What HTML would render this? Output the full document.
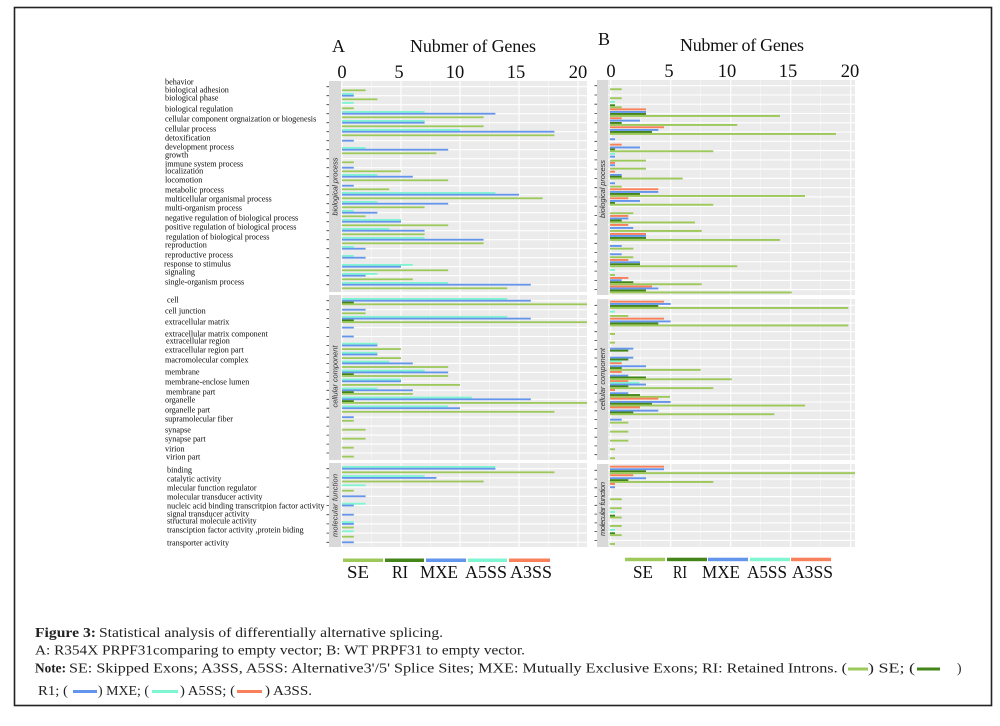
<!DOCTYPE html>
<html><head><meta charset="utf-8"><style>
html,body{margin:0;padding:0;background:#fff}
svg{display:block}
.g{fill:#9dc85a}.r{fill:#44851a}.b{fill:#6395ec}.c{fill:#7ff5d2}.o{fill:#f8805a}
.lab{font-family:"Liberation Serif",serif;font-size:8.2px;fill:#0a0a0a}
.strip{font-family:"Liberation Sans",sans-serif;font-size:7.5px;font-style:italic;fill:#333}
.big{font-family:"Liberation Serif",serif;font-size:18px;fill:#111}
.tick{font-family:"Liberation Serif",serif;font-size:18.5px;fill:#111}
.leg{font-family:"Liberation Serif",serif;font-size:18px;fill:#111}
.cap{font-family:"Liberation Serif",serif;font-size:13.5px;fill:#222}
.capb{font-family:"Liberation Serif",serif;font-size:13.5px;font-weight:bold;fill:#222}
</style></head><body>
<svg width="1000" height="726" viewBox="0 0 1000 726" xmlns="http://www.w3.org/2000/svg">
<rect x="0" y="0" width="1000" height="726" fill="#fff"/>
<rect x="14.5" y="7.5" width="977" height="698" fill="none" stroke="#222" stroke-width="1.6"/>

<!-- ===== Panel A ===== -->
<text class="big" x="332" y="52">A</text>
<text class="big" x="410" y="52" textLength="126">Nubmer of Genes</text>
<g class="tick" text-anchor="middle">
<text x="342" y="78">0</text><text x="399" y="78">5</text><text x="455" y="78">10</text><text x="516" y="78">15</text><text x="578" y="78">20</text>
</g>

<rect x="329" y="81" width="12" height="211" fill="#d9d9d9"/>
<rect x="341" y="81" width="246" height="211" fill="#ebebeb"/>
<rect x="329" y="295" width="12" height="165" fill="#d9d9d9"/>
<rect x="341" y="295" width="246" height="165" fill="#ebebeb"/>
<rect x="329" y="463" width="12" height="84" fill="#d9d9d9"/>
<rect x="341" y="463" width="246" height="84" fill="#ebebeb"/>

<g stroke="#fff" stroke-width="0.5" opacity="0.8">
<path d="M371.5 81V292M430.5 81V292M489.5 81V292M548.5 81V292M371.5 295V460M430.5 295V460M489.5 295V460M548.5 295V460M371.5 463V547M430.5 463V547M489.5 463V547M548.5 463V547"/>
</g>
<g stroke="#fff" stroke-width="1.1">
<path d="M342 81V292M401 81V292M460 81V292M519 81V292M578 81V292M342 295V460M401 295V460M460 295V460M519 295V460M578 295V460M342 463V547M401 463V547M460 463V547M519 463V547M578 463V547"/>
<path d="M341 86.7H587M341 95.7H587M341 104.7H587M341 113.7H587M341 122.7H587M341 131.7H587M341 140.7H587M341 149.7H587M341 158.7H587M341 167.7H587M341 176.7H587M341 185.7H587M341 194.7H587M341 203.7H587M341 212.7H587M341 221.7H587M341 230.7H587M341 239.7H587M341 248.7H587M341 257.7H587M341 266.7H587M341 275.7H587M341 284.7H587"/>
<path d="M341 300.7H587M341 309.7H587M341 318.6H587M341 327.6H587M341 336.5H587M341 345.5H587M341 354.5H587M341 363.4H587M341 372.4H587M341 381.3H587M341 390.3H587M341 399.3H587M341 408.2H587M341 417.2H587M341 426.1H587M341 435.1H587M341 444.1H587M341 453H587"/>
<path d="M341 468.7H587M341 477.9H587M341 487.1H587M341 496.3H587M341 505.5H587M341 514.7H587M341 523.9H587M341 533.1H587M341 542.3H587"/>
</g>
<g stroke="#333" stroke-width="0.8">
<path d="M326.5 86.7H329M326.5 95.7H329M326.5 104.7H329M326.5 113.7H329M326.5 122.7H329M326.5 131.7H329M326.5 140.7H329M326.5 149.7H329M326.5 158.7H329M326.5 167.7H329M326.5 176.7H329M326.5 185.7H329M326.5 194.7H329M326.5 203.7H329M326.5 212.7H329M326.5 221.7H329M326.5 230.7H329M326.5 239.7H329M326.5 248.7H329M326.5 257.7H329M326.5 266.7H329M326.5 275.7H329M326.5 284.7H329"/>
<path d="M326.5 300.7H329M326.5 309.7H329M326.5 318.6H329M326.5 327.6H329M326.5 336.5H329M326.5 345.5H329M326.5 354.5H329M326.5 363.4H329M326.5 372.4H329M326.5 381.3H329M326.5 390.3H329M326.5 399.3H329M326.5 408.2H329M326.5 417.2H329M326.5 426.1H329M326.5 435.1H329M326.5 444.1H329M326.5 453H329"/>
<path d="M326.5 468.7H329M326.5 477.9H329M326.5 487.1H329M326.5 496.3H329M326.5 505.5H329M326.5 514.7H329M326.5 523.9H329M326.5 533.1H329M326.5 542.3H329"/>
</g>

<text class="strip" transform="translate(337.5,186.5) rotate(-90)" text-anchor="middle" textLength="58">biological process</text>
<text class="strip" transform="translate(337.5,376.5) rotate(-90)" text-anchor="middle" textLength="62">cellular component</text>
<text class="strip" transform="translate(337.5,505.5) rotate(-90)" text-anchor="middle" textLength="63">molecular function</text>

<!-- A bio bars -->
<g transform="translate(342,86.7)"><rect class="g" y="2.7" width="23.6" height="1.8"/></g>
<g transform="translate(342,95.7)"><rect class="c" y="-2.7" width="11.8" height="1.8"/><rect class="b" y="-0.9" width="11.8" height="1.8"/><rect class="g" y="2.7" width="35.4" height="1.8"/></g>
<g transform="translate(342,104.7)"><rect class="c" y="-2.7" width="11.8" height="1.8"/><rect class="g" y="2.7" width="11.8" height="1.8"/></g>
<g transform="translate(342,113.7)"><rect class="c" y="-2.7" width="82.6" height="1.8"/><rect class="b" y="-0.9" width="153.4" height="1.8"/><rect class="g" y="2.7" width="141.6" height="1.8"/></g>
<g transform="translate(342,122.7)"><rect class="c" y="-2.7" width="82.6" height="1.8"/><rect class="b" y="-0.9" width="82.6" height="1.8"/><rect class="g" y="2.7" width="141.6" height="1.8"/></g>
<g transform="translate(342,131.7)"><rect class="c" y="-2.7" width="118" height="1.8"/><rect class="b" y="-0.9" width="212.4" height="1.8"/><rect class="g" y="2.7" width="212.4" height="1.8"/></g>
<g transform="translate(342,140.7)"><rect class="b" y="-0.9" width="11.8" height="1.8"/></g>
<g transform="translate(342,149.7)"><rect class="c" y="-2.7" width="23.6" height="1.8"/><rect class="b" y="-0.9" width="106.2" height="1.8"/><rect class="g" y="2.7" width="94.4" height="1.8"/></g>
<g transform="translate(342,158.7)"><rect class="g" y="2.7" width="11.8" height="1.8"/></g>
<g transform="translate(342,167.7)"><rect class="b" y="-0.9" width="11.8" height="1.8"/><rect class="g" y="2.7" width="59" height="1.8"/></g>
<g transform="translate(342,176.7)"><rect class="c" y="-2.7" width="35.4" height="1.8"/><rect class="b" y="-0.9" width="70.8" height="1.8"/><rect class="g" y="2.7" width="106.2" height="1.8"/></g>
<g transform="translate(342,185.7)"><rect class="b" y="-0.9" width="11.8" height="1.8"/><rect class="g" y="2.7" width="47.2" height="1.8"/></g>
<g transform="translate(342,194.7)"><rect class="c" y="-2.7" width="153.4" height="1.8"/><rect class="b" y="-0.9" width="177" height="1.8"/><rect class="g" y="2.7" width="200.6" height="1.8"/></g>
<g transform="translate(342,203.7)"><rect class="c" y="-2.7" width="35.4" height="1.8"/><rect class="b" y="-0.9" width="106.2" height="1.8"/><rect class="g" y="2.7" width="82.6" height="1.8"/></g>
<g transform="translate(342,212.7)"><rect class="c" y="-2.7" width="11.8" height="1.8"/><rect class="b" y="-0.9" width="35.4" height="1.8"/><rect class="g" y="2.7" width="23.6" height="1.8"/></g>
<g transform="translate(342,221.7)"><rect class="c" y="-2.7" width="59" height="1.8"/><rect class="b" y="-0.9" width="59" height="1.8"/><rect class="g" y="2.7" width="106.2" height="1.8"/></g>
<g transform="translate(342,230.7)"><rect class="c" y="-2.7" width="47.2" height="1.8"/><rect class="b" y="-0.9" width="82.6" height="1.8"/><rect class="g" y="2.7" width="82.6" height="1.8"/></g>
<g transform="translate(342,239.7)"><rect class="c" y="-2.7" width="82.6" height="1.8"/><rect class="b" y="-0.9" width="141.6" height="1.8"/><rect class="g" y="2.7" width="141.6" height="1.8"/></g>
<g transform="translate(342,248.7)"><rect class="c" y="-2.7" width="11.8" height="1.8"/><rect class="b" y="-0.9" width="23.6" height="1.8"/></g>
<g transform="translate(342,257.7)"><rect class="c" y="-2.7" width="11.8" height="1.8"/><rect class="b" y="-0.9" width="23.6" height="1.8"/></g>
<g transform="translate(342,266.7)"><rect class="c" y="-2.7" width="70.8" height="1.8"/><rect class="b" y="-0.9" width="59" height="1.8"/><rect class="g" y="2.7" width="106.2" height="1.8"/></g>
<g transform="translate(342,275.7)"><rect class="c" y="-2.7" width="35.4" height="1.8"/><rect class="b" y="-0.9" width="23.6" height="1.8"/><rect class="g" y="2.7" width="70.8" height="1.8"/></g>
<g transform="translate(342,284.7)"><rect class="c" y="-2.7" width="106.2" height="1.8"/><rect class="b" y="-0.9" width="188.8" height="1.8"/><rect class="g" y="2.7" width="165.2" height="1.8"/></g>

<!-- A CC bars -->
<g transform="translate(342,300.7)"><rect class="c" y="-2.7" width="165.2" height="1.8"/><rect class="b" y="-0.9" width="188.8" height="1.8"/><rect class="r" y="0.9" width="11.8" height="1.8"/><rect class="g" y="2.7" width="245" height="1.8"/></g>
<g transform="translate(342,309.7)"><rect class="b" y="-0.9" width="23.6" height="1.8"/><rect class="g" y="2.7" width="23.6" height="1.8"/></g>
<g transform="translate(342,318.6)"><rect class="c" y="-2.7" width="165.2" height="1.8"/><rect class="b" y="-0.9" width="188.8" height="1.8"/><rect class="r" y="0.9" width="11.8" height="1.8"/><rect class="g" y="2.7" width="245" height="1.8"/></g>
<g transform="translate(342,327.6)"><rect class="b" y="-0.9" width="11.8" height="1.8"/></g>
<g transform="translate(342,336.5)"><rect class="b" y="-0.9" width="11.8" height="1.8"/></g>
<g transform="translate(342,345.5)"><rect class="c" y="-2.7" width="35.4" height="1.8"/><rect class="b" y="-0.9" width="35.4" height="1.8"/><rect class="g" y="2.7" width="59" height="1.8"/></g>
<g transform="translate(342,354.5)"><rect class="c" y="-2.7" width="35.4" height="1.8"/><rect class="b" y="-0.9" width="35.4" height="1.8"/><rect class="g" y="2.7" width="59" height="1.8"/></g>
<g transform="translate(342,363.4)"><rect class="c" y="-2.7" width="47.2" height="1.8"/><rect class="b" y="-0.9" width="70.8" height="1.8"/><rect class="g" y="2.7" width="106.2" height="1.8"/></g>
<g transform="translate(342,372.4)"><rect class="c" y="-2.7" width="82.6" height="1.8"/><rect class="b" y="-0.9" width="106.2" height="1.8"/><rect class="r" y="0.9" width="11.8" height="1.8"/><rect class="g" y="2.7" width="106.2" height="1.8"/></g>
<g transform="translate(342,381.3)"><rect class="c" y="-2.7" width="59" height="1.8"/><rect class="b" y="-0.9" width="59" height="1.8"/><rect class="g" y="2.7" width="118" height="1.8"/></g>
<g transform="translate(342,390.3)"><rect class="c" y="-2.7" width="35.4" height="1.8"/><rect class="b" y="-0.9" width="70.8" height="1.8"/><rect class="r" y="0.9" width="11.8" height="1.8"/><rect class="g" y="2.7" width="70.8" height="1.8"/></g>
<g transform="translate(342,399.3)"><rect class="c" y="-2.7" width="129.8" height="1.8"/><rect class="b" y="-0.9" width="188.8" height="1.8"/><rect class="r" y="0.9" width="11.8" height="1.8"/><rect class="g" y="2.7" width="245" height="1.8"/></g>
<g transform="translate(342,408.2)"><rect class="c" y="-2.7" width="106.2" height="1.8"/><rect class="b" y="-0.9" width="118" height="1.8"/><rect class="g" y="2.7" width="212.4" height="1.8"/></g>
<g transform="translate(342,417.2)"><rect class="b" y="-0.9" width="11.8" height="1.8"/><rect class="g" y="2.7" width="11.8" height="1.8"/></g>
<g transform="translate(342,426.1)"><rect class="g" y="2.7" width="23.6" height="1.8"/></g>
<g transform="translate(342,435.1)"><rect class="g" y="2.7" width="23.6" height="1.8"/></g>
<g transform="translate(342,444.1)"><rect class="g" y="2.7" width="11.8" height="1.8"/></g>
<g transform="translate(342,453)"><rect class="g" y="2.7" width="11.8" height="1.8"/></g>

<!-- A MF bars -->
<g transform="translate(342,468.7)"><rect class="c" y="-2.7" width="153.4" height="1.8"/><rect class="b" y="-0.9" width="153.4" height="1.8"/><rect class="g" y="2.7" width="212.4" height="1.8"/></g>
<g transform="translate(342,477.9)"><rect class="c" y="-2.7" width="82.6" height="1.8"/><rect class="b" y="-0.9" width="94.4" height="1.8"/><rect class="g" y="2.7" width="141.6" height="1.8"/></g>
<g transform="translate(342,487.1)"><rect class="c" y="-2.7" width="23.6" height="1.8"/><rect class="g" y="2.7" width="11.8" height="1.8"/></g>
<g transform="translate(342,496.3)"><rect class="b" y="-0.9" width="23.6" height="1.8"/></g>
<g transform="translate(342,505.5)"><rect class="c" y="-2.7" width="23.6" height="1.8"/><rect class="b" y="-0.9" width="11.8" height="1.8"/></g>
<g transform="translate(342,514.7)"><rect class="b" y="-0.9" width="11.8" height="1.8"/></g>
<g transform="translate(342,523.9)"><rect class="c" y="-2.7" width="11.8" height="1.8"/><rect class="b" y="-0.9" width="11.8" height="1.8"/><rect class="g" y="2.7" width="11.8" height="1.8"/></g>
<g transform="translate(342,533.1)"><rect class="c" y="-2.7" width="11.8" height="1.8"/><rect class="g" y="2.7" width="11.8" height="1.8"/></g>
<g transform="translate(342,542.3)"><rect class="b" y="-0.9" width="11.8" height="1.8"/></g>

<!-- A category labels -->
<g class="lab">
<text x="165" y="84.5">behavior</text>
<text x="165" y="92.5">biological adhesion</text>
<text x="165" y="100.5">biological phase</text>
<text x="165" y="111.5">biological regulation</text>
<text x="165" y="121.5">cellular component orgnaization or biogenesis</text>
<text x="165" y="131.5">cellular process</text>
<text x="165" y="140.5">detoxification</text>
<text x="165" y="149.5">development process</text>
<text x="165" y="157.5">growth</text>
<text x="165" y="166.5">immune system process</text>
<text x="165" y="173.5">localization</text>
<text x="165" y="182.5">locomotion</text>
<text x="165" y="192.5">metabolic process</text>
<text x="165" y="201.5">multicellular organismal process</text>
<text x="165" y="210.5">multi-organism process</text>
<text x="165" y="220.5">negative regulation of biological process</text>
<text x="165" y="229.5">positive regulation of biological process</text>
<text x="166" y="239.5">regulation of biological process</text>
<text x="165" y="247.5">reproduction</text>
<text x="165" y="257.5">reproductive process</text>
<text x="164" y="266.5">response to stimulus</text>
<text x="165" y="274.5">signaling</text>
<text x="165" y="284.5">single-organism process</text>

<text x="167" y="302.5">cell</text>
<text x="165" y="313.5">cell junction</text>
<text x="165" y="324.5">extracellular matrix</text>
<text x="165" y="336.5">extracellular matrix component</text>
<text x="166" y="343.5">extracellular region</text>
<text x="165" y="352.5">extracellular region part</text>
<text x="165" y="362.5">macromolecular complex</text>
<text x="165" y="374.5">membrane</text>
<text x="165" y="384.5">membrane-enclose lumen</text>
<text x="166" y="394.5">membrane part</text>
<text x="165" y="402.5">organelle</text>
<text x="165" y="412.5">organelle part</text>
<text x="165" y="421.5">supramolecular fiber</text>
<text x="165" y="432.5">synapse</text>
<text x="165" y="441.5">synapse part</text>
<text x="165" y="451.5">virion</text>
<text x="166" y="459.5">virion part</text>

<text x="167" y="472.5">binding</text>
<text x="167" y="481.5">catalytic activity</text>
<text x="167" y="490.5">mlecular function regulator</text>
<text x="167" y="499.5">molecular transducer activity</text>
<text x="167" y="508.5">nucleic acid binding transcritpion factor activity</text>
<text x="167" y="516.5">signal transducer activity</text>
<text x="167" y="523.5">structural molecule activity</text>
<text x="167" y="532.5">transciption factor activity ,protein biding</text>
<text x="167" y="545.5">transporter activity</text>
</g>

<!-- A legend -->
<rect x="343" y="558.5" width="40" height="3.5" fill="#9dc85a"/>
<rect x="385" y="558.5" width="39" height="3.5" fill="#44851a"/>
<rect x="426" y="558.5" width="40" height="3.5" fill="#6395ec"/>
<rect x="468" y="558.5" width="39" height="3.5" fill="#7ff5d2"/>
<rect x="509" y="558.5" width="41" height="3.5" fill="#f8805a"/>
<g class="leg">
<text x="347" y="578" textLength="22" lengthAdjust="spacingAndGlyphs">SE</text>
<text x="392" y="578" textLength="16" lengthAdjust="spacingAndGlyphs">RI</text>
<text x="420" y="578" textLength="38" lengthAdjust="spacingAndGlyphs">MXE</text>
<text x="465" y="578" textLength="42" lengthAdjust="spacingAndGlyphs">A5SS</text>
<text x="510" y="578" textLength="42" lengthAdjust="spacingAndGlyphs">A3SS</text>
</g>

<!-- ===== Panel B ===== -->
<text class="big" x="598" y="45">B</text>
<text class="big" x="680" y="51" textLength="124">Nubmer of Genes</text>
<g class="tick" text-anchor="middle">
<text x="611" y="77">0</text><text x="669" y="77">5</text><text x="727" y="77">10</text><text x="788" y="77">15</text><text x="850" y="77">20</text>
</g>

<rect x="597" y="80" width="11" height="215" fill="#d9d9d9"/>
<rect x="608" y="80" width="247" height="215" fill="#ebebeb"/>
<rect x="597" y="299" width="11" height="161" fill="#d9d9d9"/>
<rect x="608" y="299" width="247" height="161" fill="#ebebeb"/>
<rect x="597" y="464" width="11" height="83" fill="#d9d9d9"/>
<rect x="608" y="464" width="247" height="83" fill="#ebebeb"/>

<g stroke="#fff" stroke-width="0.5" opacity="0.8">
<path d="M640.7 80V295M700.7 80V295M760.7 80V295M820.7 80V295M640.7 299V460M700.7 299V460M760.7 299V460M820.7 299V460M640.7 464V547M700.7 464V547M760.7 464V547M820.7 464V547"/>
</g>
<g stroke="#fff" stroke-width="1.1">
<path d="M610.7 80V295M670.7 80V295M730.7 80V295M790.7 80V295M850.7 80V295M610.7 299V460M670.7 299V460M730.7 299V460M790.7 299V460M850.7 299V460M610.7 464V547M670.7 464V547M730.7 464V547M790.7 464V547M850.7 464V547"/>
<path d="M608 85.7H855M608 95H855M608 104.2H855M608 113.5H855M608 122.8H855M608 132H855M608 141.3H855M608 150.6H855M608 159.9H855M608 169.1H855M608 178.4H855M608 187.7H855M608 196.9H855M608 206.2H855M608 215.5H855M608 224.8H855M608 234H855M608 243.3H855M608 252.6H855M608 261.8H855M608 271.1H855M608 280.4H855M608 289.6H855"/>
<path d="M608 305.3H855M608 314.1H855M608 322.9H855M608 331.7H855M608 340.5H855M608 349.3H855M608 358H855M608 366.8H855M608 375.6H855M608 384.4H855M608 393.2H855M608 402H855M608 410.8H855M608 419.6H855M608 428.4H855M608 437.2H855M608 445.9H855M608 454.7H855"/>
<path d="M608 470.3H855M608 479.1H855M608 487.8H855M608 496.6H855M608 505.3H855M608 514.1H855M608 522.9H855M608 531.6H855M608 540.4H855"/>
</g>
<g stroke="#333" stroke-width="0.8">
<path d="M594.5 85.7H597M594.5 95H597M594.5 104.2H597M594.5 113.5H597M594.5 122.8H597M594.5 132H597M594.5 141.3H597M594.5 150.6H597M594.5 159.9H597M594.5 169.1H597M594.5 178.4H597M594.5 187.7H597M594.5 196.9H597M594.5 206.2H597M594.5 215.5H597M594.5 224.8H597M594.5 234H597M594.5 243.3H597M594.5 252.6H597M594.5 261.8H597M594.5 271.1H597M594.5 280.4H597M594.5 289.6H597"/>
<path d="M594.5 305.3H597M594.5 314.1H597M594.5 322.9H597M594.5 331.7H597M594.5 340.5H597M594.5 349.3H597M594.5 358H597M594.5 366.8H597M594.5 375.6H597M594.5 384.4H597M594.5 393.2H597M594.5 402H597M594.5 410.8H597M594.5 419.6H597M594.5 428.4H597M594.5 437.2H597M594.5 445.9H597M594.5 454.7H597"/>
<path d="M594.5 470.3H597M594.5 479.1H597M594.5 487.8H597M594.5 496.6H597M594.5 505.3H597M594.5 514.1H597M594.5 522.9H597M594.5 531.6H597M594.5 540.4H597"/>
</g>

<text class="strip" transform="translate(605,189) rotate(-90)" text-anchor="middle" textLength="58">biological process</text>
<text class="strip" transform="translate(605,379) rotate(-90)" text-anchor="middle" textLength="62">cellular component</text>
<text class="strip" transform="translate(605,509) rotate(-90)" text-anchor="middle" textLength="54">molecular function</text>

<!-- B bio bars -->
<g>
<rect class="g" x="610" y="88.3" width="11.7" height="1.9"/>
<rect class="g" x="610" y="97.3" width="11.7" height="1.9"/>
<rect class="c" x="610" y="101" width="5" height="1.9"/>
<rect class="r" x="610" y="104.3" width="5" height="1.9"/>
<rect class="g" x="610" y="106.3" width="11.7" height="1.9"/>
<rect class="o" x="610" y="108.4" width="36" height="1.9"/>
<rect class="b" x="610" y="111" width="36" height="1.9"/>
<rect class="r" x="610" y="113" width="36" height="1.9"/>
<rect class="g" x="610" y="115" width="170" height="1.9"/>
<rect class="o" x="610" y="117.3" width="11.7" height="1.9"/>
<rect class="b" x="610" y="119.7" width="30" height="1.9"/>
<rect class="r" x="610" y="122" width="11.7" height="1.9"/>
<rect class="g" x="610" y="124" width="127.3" height="1.9"/>
<rect class="o" x="610" y="126.3" width="54" height="1.9"/>
<rect class="b" x="610" y="129" width="48.3" height="1.9"/>
<rect class="r" x="610" y="131" width="42" height="1.9"/>
<rect class="g" x="610" y="133" width="226" height="1.9"/>
<rect class="b" x="610" y="138.3" width="5" height="1.9"/>
<rect class="o" x="610" y="143.7" width="11.7" height="1.9"/>
<rect class="b" x="610" y="146.5" width="30" height="1.9"/>
<rect class="r" x="610" y="148.4" width="5" height="1.9"/>
<rect class="g" x="610" y="150.3" width="103.3" height="1.9"/>
<rect class="c" x="610" y="153" width="5" height="1.9"/>
<rect class="b" x="610" y="155.7" width="5" height="1.9"/>
<rect class="g" x="610" y="159.7" width="36" height="1.9"/>
<rect class="o" x="610" y="161.9" width="5" height="1.9"/>
<rect class="b" x="610" y="164.3" width="5" height="1.9"/>
<rect class="g" x="610" y="167.7" width="36" height="1.9"/>
<rect class="o" x="610" y="170.7" width="5" height="1.9"/>
<rect class="b" x="610" y="174" width="11.7" height="1.9"/>
<rect class="r" x="610" y="175.8" width="11.7" height="1.9"/>
<rect class="g" x="610" y="177.6" width="72.7" height="1.9"/>
<rect class="b" x="610" y="182.3" width="5" height="1.9"/>
<rect class="g" x="610" y="185.7" width="11.7" height="1.9"/>
<rect class="o" x="610" y="188.3" width="48.3" height="1.9"/>
<rect class="b" x="610" y="191" width="48.3" height="1.9"/>
<rect class="r" x="610" y="193" width="30" height="1.9"/>
<rect class="g" x="610" y="195" width="195" height="1.9"/>
<rect class="o" x="610" y="197.3" width="18.3" height="1.9"/>
<rect class="b" x="610" y="200" width="30" height="1.9"/>
<rect class="r" x="610" y="202" width="5" height="1.9"/>
<rect class="g" x="610" y="203.8" width="103.3" height="1.9"/>
<rect class="g" x="610" y="212.3" width="23.3" height="1.9"/>
<rect class="o" x="610" y="215" width="18.3" height="1.9"/>
<rect class="b" x="610" y="217.5" width="18.3" height="1.9"/>
<rect class="r" x="610" y="219.5" width="11.7" height="1.9"/>
<rect class="g" x="610" y="221.5" width="85" height="1.9"/>
<rect class="o" x="610" y="224" width="18.3" height="1.9"/>
<rect class="b" x="610" y="227" width="23.3" height="1.9"/>
<rect class="g" x="610" y="230" width="91.7" height="1.9"/>
<rect class="o" x="610" y="233" width="36" height="1.9"/>
<rect class="b" x="610" y="235" width="36" height="1.9"/>
<rect class="r" x="610" y="237" width="36" height="1.9"/>
<rect class="g" x="610" y="239" width="170" height="1.9"/>
<rect class="b" x="610" y="245" width="11.7" height="1.9"/>
<rect class="g" x="610" y="247.7" width="23.3" height="1.9"/>
<rect class="b" x="610" y="253.3" width="11.7" height="1.9"/>
<rect class="g" x="610" y="256.3" width="23.3" height="1.9"/>
<rect class="o" x="610" y="259" width="18.3" height="1.9"/>
<rect class="b" x="610" y="261.3" width="30" height="1.9"/>
<rect class="r" x="610" y="263.3" width="30" height="1.9"/>
<rect class="g" x="610" y="265.3" width="127.3" height="1.9"/>
<rect class="c" x="610" y="269" width="5" height="1.9"/>
<rect class="g" x="610" y="274" width="5" height="1.9"/>
<rect class="o" x="610" y="277" width="18.3" height="1.9"/>
<rect class="b" x="610" y="279.3" width="11.7" height="1.9"/>
<rect class="r" x="610" y="281.3" width="23.3" height="1.9"/>
<rect class="g" x="610" y="283.3" width="91.7" height="1.9"/>
<rect class="o" x="610" y="285.5" width="42" height="1.9"/>
<rect class="b" x="610" y="287.5" width="48.3" height="1.9"/>
<rect class="r" x="610" y="289.5" width="36" height="1.9"/>
<rect class="g" x="610" y="291.5" width="181.7" height="1.9"/>
</g>

<!-- B CC bars -->
<g>
<rect class="o" x="610" y="300.7" width="54" height="1.9"/>
<rect class="b" x="610" y="303" width="60.7" height="1.9"/>
<rect class="r" x="610" y="305" width="48.3" height="1.9"/>
<rect class="g" x="610" y="307" width="238.3" height="1.9"/>
<rect class="c" x="610" y="310.7" width="5" height="1.9"/>
<rect class="g" x="610" y="315" width="18.3" height="1.9"/>
<rect class="o" x="610" y="317.7" width="54" height="1.9"/>
<rect class="b" x="610" y="320.5" width="60.7" height="1.9"/>
<rect class="r" x="610" y="322.5" width="48.3" height="1.9"/>
<rect class="g" x="610" y="324.5" width="238.3" height="1.9"/>
<rect class="g" x="610" y="333" width="5" height="1.9"/>
<rect class="g" x="610" y="341.7" width="5" height="1.9"/>
<rect class="b" x="610" y="347.7" width="23.3" height="1.9"/>
<rect class="r" x="610" y="349.7" width="18.3" height="1.9"/>
<rect class="b" x="610" y="356.7" width="23.3" height="1.9"/>
<rect class="r" x="610" y="358.6" width="18.3" height="1.9"/>
<rect class="c" x="610" y="360.4" width="11.7" height="1.9"/>
<rect class="o" x="610" y="362.3" width="11.7" height="1.9"/>
<rect class="b" x="610" y="365.3" width="36" height="1.9"/>
<rect class="r" x="610" y="367.1" width="11.7" height="1.9"/>
<rect class="g" x="610" y="368.9" width="90.7" height="1.9"/>
<rect class="o" x="610" y="371" width="11.7" height="1.9"/>
<rect class="b" x="610" y="374.7" width="18.3" height="1.9"/>
<rect class="r" x="610" y="376.5" width="36" height="1.9"/>
<rect class="g" x="610" y="378.3" width="121.7" height="1.9"/>
<rect class="o" x="610" y="380.2" width="18.3" height="1.9"/>
<rect class="c" x="610" y="381.9" width="29.3" height="1.9"/>
<rect class="b" x="610" y="383.6" width="36" height="1.9"/>
<rect class="r" x="610" y="385.4" width="18.3" height="1.9"/>
<rect class="g" x="610" y="387.2" width="103.3" height="1.9"/>
<rect class="o" x="610" y="389" width="5" height="1.9"/>
<rect class="b" x="610" y="392.3" width="18.3" height="1.9"/>
<rect class="r" x="610" y="394.1" width="30" height="1.9"/>
<rect class="g" x="610" y="395.9" width="60" height="1.9"/>
<rect class="o" x="610" y="397.7" width="48.3" height="1.9"/>
<rect class="b" x="610" y="401" width="60.7" height="1.9"/>
<rect class="r" x="610" y="402.8" width="42" height="1.9"/>
<rect class="g" x="610" y="404.6" width="195" height="1.9"/>
<rect class="o" x="610" y="406.5" width="30" height="1.9"/>
<rect class="b" x="610" y="409.7" width="48.3" height="1.9"/>
<rect class="r" x="610" y="411.5" width="23.3" height="1.9"/>
<rect class="g" x="610" y="413.3" width="164.3" height="1.9"/>
<rect class="b" x="610" y="418.7" width="11.7" height="1.9"/>
<rect class="g" x="610" y="421.7" width="18.3" height="1.9"/>
<rect class="g" x="610" y="430.7" width="18.3" height="1.9"/>
<rect class="g" x="610" y="439.7" width="18.3" height="1.9"/>
<rect class="g" x="610" y="448.3" width="5" height="1.9"/>
<rect class="g" x="610" y="457.3" width="5" height="1.9"/>
</g>

<!-- B MF bars -->
<g>
<rect class="o" x="610" y="465.7" width="54" height="1.9"/>
<rect class="b" x="610" y="468.3" width="54" height="1.9"/>
<rect class="r" x="610" y="470.3" width="36" height="1.9"/>
<rect class="g" x="610" y="472.2" width="245" height="1.9"/>
<rect class="o" x="610" y="474.3" width="23.3" height="1.9"/>
<rect class="b" x="610" y="477.3" width="36" height="1.9"/>
<rect class="r" x="610" y="479.2" width="18.3" height="1.9"/>
<rect class="g" x="610" y="481" width="103.3" height="1.9"/>
<rect class="o" x="610" y="483" width="5" height="1.9"/>
<rect class="b" x="610" y="486.3" width="5" height="1.9"/>
<rect class="g" x="610" y="498.3" width="11.7" height="1.9"/>
<rect class="g" x="610" y="507.3" width="11.7" height="1.9"/>
<rect class="c" x="610" y="511" width="5" height="1.9"/>
<rect class="r" x="610" y="514.7" width="5" height="1.9"/>
<rect class="g" x="610" y="516.5" width="11.7" height="1.9"/>
<rect class="g" x="610" y="525" width="11.7" height="1.9"/>
<rect class="c" x="610" y="529" width="5" height="1.9"/>
<rect class="r" x="610" y="532.3" width="5" height="1.9"/>
<rect class="g" x="610" y="534.2" width="11.7" height="1.9"/>
<rect class="g" x="610" y="543" width="5" height="1.9"/>
</g>

<!-- B legend -->
<rect x="625" y="557.7" width="40" height="3.5" fill="#9dc85a"/>
<rect x="667" y="557.7" width="40" height="3.5" fill="#44851a"/>
<rect x="708" y="557.7" width="40" height="3.5" fill="#6395ec"/>
<rect x="750" y="557.7" width="40" height="3.5" fill="#7ff5d2"/>
<rect x="791" y="557.7" width="40" height="3.5" fill="#f8805a"/>
<g class="leg">
<text x="633" y="578" textLength="20" lengthAdjust="spacingAndGlyphs">SE</text>
<text x="673" y="578" textLength="14" lengthAdjust="spacingAndGlyphs">RI</text>
<text x="702" y="578" textLength="38" lengthAdjust="spacingAndGlyphs">MXE</text>
<text x="747" y="578" textLength="40" lengthAdjust="spacingAndGlyphs">A5SS</text>
<text x="792" y="578" textLength="41" lengthAdjust="spacingAndGlyphs">A3SS</text>
</g>

<!-- ===== Caption ===== -->
<text class="capb" x="35" y="637" textLength="61" lengthAdjust="spacingAndGlyphs">Figure 3:</text>
<text class="cap" x="99" y="637" textLength="344" lengthAdjust="spacingAndGlyphs">Statistical analysis of differentially alternative splicing.</text>
<text class="cap" x="35" y="654.5" textLength="490" lengthAdjust="spacingAndGlyphs">A: R354X PRPF31comparing to empty vector; B: WT PRPF31 to empty vector.</text>
<text class="capb" x="35" y="672.5" textLength="31" lengthAdjust="spacingAndGlyphs">Note:</text>
<text class="cap" x="69" y="672.5" textLength="778" lengthAdjust="spacingAndGlyphs">SE: Skipped Exons; A3SS, A5SS: Alternative3'/5' Splice Sites; MXE: Mutually Exclusive Exons; RI: Retained Introns. (</text>
<rect x="848" y="667.5" width="20" height="3" fill="#9dc85a"/>
<text class="cap" x="868" y="672.5" textLength="47" lengthAdjust="spacingAndGlyphs">) SE; (</text>
<rect x="917" y="667.5" width="23" height="3" fill="#44851a"/>
<text class="cap" x="957" y="672.5">)</text>
<text class="cap" x="38" y="695" textLength="30" lengthAdjust="spacingAndGlyphs">R1; (</text>
<rect x="73" y="690" width="24" height="3" fill="#6395ec"/>
<text class="cap" x="98" y="695" textLength="51" lengthAdjust="spacingAndGlyphs">) MXE; (</text>
<rect x="152" y="690" width="26" height="3" fill="#7ff5d2"/>
<text class="cap" x="180" y="695" textLength="55" lengthAdjust="spacingAndGlyphs">) A5SS; (</text>
<rect x="237" y="690" width="25" height="3" fill="#f8805a"/>
<text class="cap" x="265" y="695" textLength="47" lengthAdjust="spacingAndGlyphs">) A3SS.</text>
</svg>
</body></html>
